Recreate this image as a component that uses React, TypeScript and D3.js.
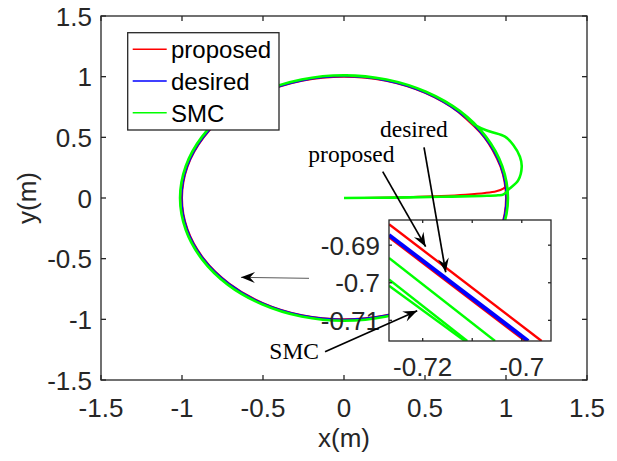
import React from 'react';
import * as d3 from 'd3';

type P = [number, number];

// ---------- main axes ----------
const xTicks = [-1.5, -1, -0.5, 0, 0.5, 1, 1.5];
const yTicks = [-1.5, -1, -0.5, 0, 0.5, 1, 1.5];
const xTickLabels = ['-1.5', '-1', '-0.5', '0', '0.5', '1', '1.5'];
const yTickLabels = ['-1.5', '-1', '-0.5', '0', '0.5', '1', '1.5'];

// ---------- series (main view) ----------
const desired: P[] = [
  [1, 0], [0.966, 0.259], [0.866, 0.5], [0.707, 0.707], [0.5, 0.866], [0.259, 0.966],
  [0, 1], [-0.259, 0.966], [-0.5, 0.866], [-0.707, 0.707], [-0.866, 0.5], [-0.966, 0.259],
  [-1, 0], [-0.966, -0.259], [-0.866, -0.5], [-0.707, -0.707], [-0.5, -0.866], [-0.259, -0.966],
  [0, -1], [0.259, -0.966], [0.5, -0.866], [0.707, -0.707], [0.866, -0.5], [0.966, -0.259],
];

const proposed: P[] = [
  [0, 0], [0.2, 0.002], [0.4, 0.007], [0.6, 0.016], [0.75, 0.027], [0.87, 0.041],
  [0.94, 0.056], [0.983, 0.078], [0.996, 0.095], [0.985, 0.174], [0.966, 0.259],
  [0.866, 0.5], [0.707, 0.707], [0.5, 0.866], [0.259, 0.966], [0, 1], [-0.259, 0.966],
  [-0.5, 0.866], [-0.707, 0.707], [-0.866, 0.5], [-0.966, 0.259], [-1, 0], [-0.966, -0.259],
  [-0.866, -0.5], [-0.707, -0.707], [-0.5, -0.866], [-0.259, -0.966], [0, -1], [0.259, -0.966],
  [0.5, -0.866], [0.707, -0.707], [0.866, -0.5], [0.966, -0.259], [1, 0], [0.966, 0.259],
  [0.866, 0.5], [0.707, 0.707],
];

const smc: P[] = [
  [0, 0], [0.3, 0.003], [0.6, 0.01], [0.85, 0.017], [0.95, 0.022], [0.985, 0.03],
  [1.02, 0.075], [1.076, 0.148], [1.097, 0.258], [1.086, 0.34], [1.045, 0.437],
  [0.994, 0.505], [0.901, 0.548], [0.815, 0.596], [0.716, 0.716], [0.506, 0.876],
  [0.262, 0.977], [0, 1.012], [-0.262, 0.977], [-0.506, 0.876], [-0.716, 0.716],
  [-0.876, 0.506], [-0.977, 0.262], [-1.012, 0], [-0.977, -0.262], [-0.876, -0.506],
  [-0.716, -0.716], [-0.506, -0.876], [-0.262, -0.977], [0, -1.012], [0.262, -0.977],
  [0.506, -0.876], [0.716, -0.716], [0.876, -0.506], [0.977, -0.262], [1.012, 0],
  [0.977, 0.262], [0.876, 0.506], [0.716, 0.716], [0.506, 0.876], [0.262, 0.977], [0, 1.012],
];

// ---------- inset (zoomed view) ----------
const insetXDomain: P = [-0.7268, -0.6941];
const insetYDomain: P = [-0.7155, -0.6833];
const insetXTicks = [-0.72, -0.71, -0.7];
const insetXLabelTicks = [-0.72, -0.7];
const insetXLabels = ['-0.72', '-0.7'];
const insetYTicks = [-0.71, -0.7, -0.69];
const insetYLabels = ['-0.71', '-0.7', '-0.69'];

const insetProposed: P[][] = [
  [[-0.7268, -0.6844], [-0.696, -0.7155]],
  [[-0.7268, -0.6879], [-0.6993, -0.7155]],
];
const insetDesired: P[][] = [
  [[-0.7268, -0.6873], [-0.6987, -0.7155]],
];
const insetSMC: P[][] = [
  [[-0.7268, -0.6934], [-0.7054, -0.7155]],
  [[-0.7268, -0.6991], [-0.711, -0.7155]],
  [[-0.7268, -0.7008], [-0.7115, -0.7155]],
];

// ---------- annotations (main-axes data coordinates) ----------
const noteLabels = ['proposed', 'desired', 'SMC'];
const notePositions: P[] = [[-0.22, 0.299], [0.222, 0.505], [-0.461, -1.327]];
const arrowFrom: P[] = [[0.239, 0.217], [0.494, 0.418], [-0.117, -1.267], [-0.216, -0.662]];
const arrowTo: P[] = [[0.504, -0.401], [0.628, -0.612], [0.452, -0.929], [-0.636, -0.654]];

// ---------- legend ----------
const legendNames = ['proposed', 'desired', 'SMC'];
const legendColors = ['#ff0000', '#0000ff', '#00ff00'];

const AX = '#262626';
const SANS = '"Liberation Sans", Arial, Helvetica, sans-serif';
const SERIF = '"Liberation Serif", "Times New Roman", serif';

export default function App() {
  const W = 617, H = 461;
  const x = d3.scaleLinear().domain([-1.5, 1.5]).range([101, 587]);
  const y = d3.scaleLinear().domain([-1.5, 1.5]).range([380, 16]);
  const ix = d3.scaleLinear().domain(insetXDomain).range([389, 551]);
  const iy = d3.scaleLinear().domain(insetYDomain).range([341, 220]);

  const mainLine = d3.line<P>().x(d => x(d[0])).y(d => y(d[1])).curve(d3.curveCatmullRom.alpha(0.5));
  const closedLine = d3.line<P>().x(d => x(d[0])).y(d => y(d[1])).curve(d3.curveCatmullRomClosed.alpha(0.5));
  const insetLine = d3.line<P>().x(d => ix(d[0])).y(d => iy(d[1]));

  const [x0, x1] = x.range();
  const [yb, yt] = y.range();
  const tk = 5;
  const [ixl, ixr] = ix.range();
  const [iyb, iyt] = iy.range();
  const itk = 3;

  const arrowHead = (fx: number, fy: number, tx: number, ty: number) => {
    const a = Math.atan2(ty - fy, tx - fx);
    const L = 14, Wd = 11, N = 9;
    const c = Math.cos(a), s = Math.sin(a);
    const pt = (u: number, v: number) => [tx + u * c - v * s, ty + u * s + v * c];
    const pts = [pt(0, 0), pt(-L, Wd / 2), pt(-N, 0), pt(-L, -Wd / 2)];
    return pts.map(p => p.join(',')).join(' ');
  };

  return (
    <svg width={W} height={H} style={{ position: 'absolute', left: 0, top: 0, background: '#fff' }}
      xmlns="http://www.w3.org/2000/svg">
      <defs>
        <clipPath id="mainClip"><rect x={x0} y={yt} width={x1 - x0} height={yb - yt} /></clipPath>
        <clipPath id="insetClip"><rect x={ixl} y={iyt} width={ixr - ixl} height={iyb - iyt} /></clipPath>
      </defs>
      <rect x={0} y={0} width={W} height={H} fill="#fff" />

      {/* main series */}
      <g clipPath="url(#mainClip)" fill="none">
        <path d={mainLine(proposed) || ''} stroke="#ff0000" strokeWidth={2} />
        <path d={closedLine(desired) || ''} stroke="#0000ff" strokeWidth={1.2} />
        <path d={mainLine(smc) || ''} stroke="#00ff00" strokeWidth={2.6} />
      </g>

      {/* main axes box and ticks */}
      <g stroke={AX} strokeWidth={1.3} fill="none">
        <rect x={x0} y={yt} width={x1 - x0} height={yb - yt} />
        {xTicks.map((v, i) => (
          <g key={'xt' + i}>
            <line x1={x(v)} x2={x(v)} y1={yb} y2={yb - tk} />
            <line x1={x(v)} x2={x(v)} y1={yt} y2={yt + tk} />
          </g>
        ))}
        {yTicks.map((v, i) => (
          <g key={'yt' + i}>
            <line x1={x0} x2={x0 + tk} y1={y(v)} y2={y(v)} />
            <line x1={x1} x2={x1 - tk} y1={y(v)} y2={y(v)} />
          </g>
        ))}
      </g>
      <g fill={AX} fontFamily={SANS} fontSize={26}>
        {xTicks.map((v, i) => (
          <text key={'xl' + i} x={x(v)} y={yb + 37} textAnchor="middle">{xTickLabels[i]}</text>
        ))}
        {yTicks.map((v, i) => (
          <text key={'yl' + i} x={x0 - 9} y={y(v) + 9.5} textAnchor="end">{yTickLabels[i]}</text>
        ))}
        <text x={(x0 + x1) / 2} y={447} textAnchor="middle">x(m)</text>
        <text transform={`translate(36,${(yb + yt) / 2}) rotate(-90)`} textAnchor="middle">y(m)</text>
      </g>

      {/* inset */}
      <rect x={ixl} y={iyt} width={ixr - ixl} height={iyb - iyt} fill="#fff" />
      <g clipPath="url(#insetClip)" fill="none">
        {insetProposed.map((seg, i) => (
          <path key={'ip' + i} d={insetLine(seg) || ''} stroke="#ff0000" strokeWidth={2.4} />
        ))}
        {insetDesired.map((seg, i) => (
          <path key={'id' + i} d={insetLine(seg) || ''} stroke="#0000ff" strokeWidth={4} />
        ))}
        {insetSMC.map((seg, i) => (
          <path key={'is' + i} d={insetLine(seg) || ''} stroke="#00ff00" strokeWidth={2.4} />
        ))}
      </g>
      <g stroke={AX} strokeWidth={1.3} fill="none">
        <rect x={ixl} y={iyt} width={ixr - ixl} height={iyb - iyt} />
        {insetXTicks.map((v, i) => (
          <g key={'ixt' + i}>
            <line x1={ix(v)} x2={ix(v)} y1={iyb} y2={iyb - itk} />
            <line x1={ix(v)} x2={ix(v)} y1={iyt} y2={iyt + itk} />
          </g>
        ))}
        {insetYTicks.map((v, i) => (
          <g key={'iyt' + i}>
            <line x1={ixl} x2={ixl + itk} y1={iy(v)} y2={iy(v)} />
            <line x1={ixr} x2={ixr - itk} y1={iy(v)} y2={iy(v)} />
          </g>
        ))}
      </g>
      <g fill={AX} fontFamily={SANS} fontSize={26}>
        {insetXLabelTicks.map((v, i) => (
          <text key={'ixl' + i} x={ix(v)} y={iyb + 35} textAnchor="middle">{insetXLabels[i]}</text>
        ))}
        {insetYTicks.map((v, i) => (
          <text key={'iyl' + i} x={ixl - 9} y={iy(v) + 9.5} textAnchor="end">{insetYLabels[i]}</text>
        ))}
      </g>

      {/* annotations */}
      <g fontFamily={SERIF} fontSize={23.5} fill="#000">
        {noteLabels.map((t, i) => (
          <text key={'nt' + i} x={x(notePositions[i][0])} y={y(notePositions[i][1])}>{t}</text>
        ))}
      </g>
      {arrowFrom.map((f, i) => {
        const fx = x(f[0]), fy = y(f[1]), tx = x(arrowTo[i][0]), ty = y(arrowTo[i][1]);
        const gray = i === 3;
        return (
          <g key={'ar' + i}>
            <line x1={fx} y1={fy} x2={tx} y2={ty} stroke={gray ? '#5a5a5a' : '#000'}
              strokeWidth={gray ? 1 : 1.7} />
            <polygon points={arrowHead(fx, fy, tx, ty)} fill="#000" />
          </g>
        );
      })}

      {/* legend */}
      <g>
        <rect x={127.7} y={32.7} width={151.3} height={97.3} fill="#fff" stroke={AX} strokeWidth={1.3} />
        {legendNames.map((n, i) => {
          const cy = 49.3 + i * 31.7;
          return (
            <g key={'lg' + i}>
              <line x1={132.7} x2={166.7} y1={cy} y2={cy} stroke={legendColors[i]} strokeWidth={1.4} />
              <text x={171} y={cy + 9} fontFamily={SANS} fontSize={24} fill="#000">{n}</text>
            </g>
          );
        })}
      </g>
    </svg>
  );
}
